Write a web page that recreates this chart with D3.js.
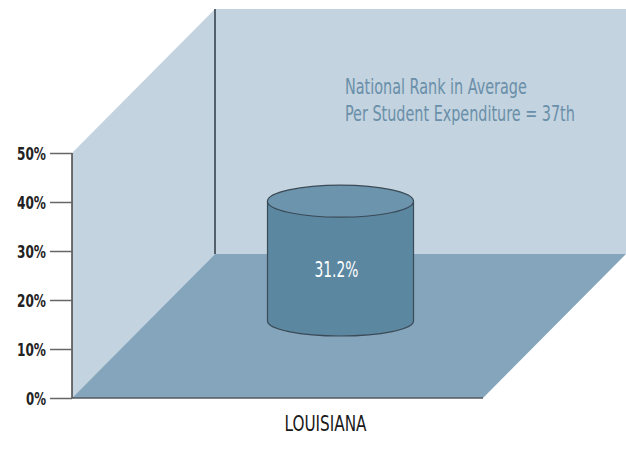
<!DOCTYPE html>
<html><head><meta charset="utf-8">
<script src="https://cdn.jsdelivr.net/npm/d3@7/dist/d3.min.js"></script>
<style>body{margin:0;background:#fff}svg{display:block}</style>
</head><body>
<script>
const categories = ["LOUISIANA"];
const values = [31.2];
const tickValues = [0, 10, 20, 30, 40, 50];
const tickLabels = ["0%", "10%", "20%", "30%", "40%", "50%"];
const valueLabels = ["31.2%"];
const noteLines = ["National Rank in Average", "Per Student Expenditure = 37th"];

const W = 626, H = 457;
const svg = d3.select("body").append("svg").attr("width", W).attr("height", H);
const font = "'DejaVu Sans Condensed','DejaVu Sans',sans-serif";

// place a horizontally-squeezed text: anchor 'start' | 'middle' | 'end'
function squeezed(parent, str, px, py, size, width, anchor, fill, weight) {
  const g = parent.append("g");
  const t = g.append("text").attr("x", 0).attr("y", 0)
    .attr("font-family", font).attr("font-size", size).attr("fill", fill)
    .attr("font-weight", weight || "normal").text(str);
  const nat = t.node().getComputedTextLength();
  const sx = width / nat;
  const off = anchor === "middle" ? -width / 2 : anchor === "end" ? -width : 0;
  g.attr("transform", `translate(${px + off},${py}) scale(${sx},1)`);
  return g;
}

// front plane scales
const y = d3.scaleLinear().domain([0, 50]).range([398, 153]);
const x = d3.scaleBand().domain(categories).range([72, 483]);
const dx = 143, dy = -144; // depth offset

// walls
const wallC = "#c3d3df", floorC = "#84a5bb";
svg.append("polygon").attr("fill", wallC)
  .attr("points", [[72, y(50)], [72 + dx, y(50) + dy], [72 + dx, y(0) + dy], [72, y(0)]].join(" "));
svg.append("rect").attr("fill", wallC)
  .attr("x", 72 + dx).attr("y", y(50) + dy).attr("width", W - (72 + dx)).attr("height", y(0) - y(50));
svg.append("polygon").attr("fill", floorC)
  .attr("points", [[72, y(0)], [483, y(0)], [483 + dx, y(0) + dy], [72 + dx, y(0) + dy]].join(" "));

// back wall edge line
svg.append("line").attr("x1", 72 + dx).attr("x2", 72 + dx)
  .attr("y1", y(50) + dy).attr("y2", y(0) + dy).attr("stroke", "#2e3a44").attr("stroke-width", 1.5);
// floor front line
svg.append("line").attr("x1", 72).attr("x2", 483).attr("y1", y(0)).attr("y2", y(0))
  .attr("stroke", "#55595e").attr("stroke-width", 1.5);

// axis
const axis = d3.axisLeft(y).tickValues(tickValues).tickSize(22).tickFormat("");
const ag = svg.append("g").attr("transform", "translate(72,0)").call(axis);
ag.select(".domain").attr("stroke", "#444").attr("stroke-width", 1.5).attr("d", `M0,${y(50)}V${y(0)}`);
ag.selectAll(".tick line").attr("stroke", "#666").attr("stroke-width", 1.5);
tickValues.forEach((v, i) => {
  squeezed(svg, tickLabels[i], 46, y(v) + 6.5, 17, tickLabels[i].length === 2 ? 20 : 29, "end", "#222", "bold");
});

// cylinder
const yBar = d3.scaleLinear().domain([0, 50]).range([321, 321 - 192]);
const rx = 73, ryTop = 16, ryBot = 15;
categories.forEach((c, i) => {
  const cx = x(c) + x.bandwidth() / 2 + 63;
  const yb = yBar(0), yt = yBar(values[i]);
  const g = svg.append("g");
  g.append("path").attr("fill", "#5b87a1").attr("stroke", "#3a4a56").attr("stroke-width", 1.2)
    .attr("d", `M${cx - rx},${yt} V${yb} A${rx},${ryBot} 0 0 0 ${cx + rx},${yb} V${yt} Z`);
  g.append("ellipse").attr("cx", cx).attr("cy", yt).attr("rx", rx).attr("ry", ryTop)
    .attr("fill", "#6d94ad").attr("stroke", "#3a4a56").attr("stroke-width", 1.2);
  squeezed(svg, valueLabels[i], cx - 4, 277, 22, 44, "middle", "#fff");
  squeezed(svg, c, x(c) + x.bandwidth() / 2 + 48, 431, 21, 82, "middle", "#1a1a1a");
});

// annotation
const noteW = [182, 230];
noteLines.forEach((t, i) => {
  squeezed(svg, t, 345, 94 + i * 27, 21, noteW[i], "start", "#6a8fa9");
});
</script>
</body></html>
